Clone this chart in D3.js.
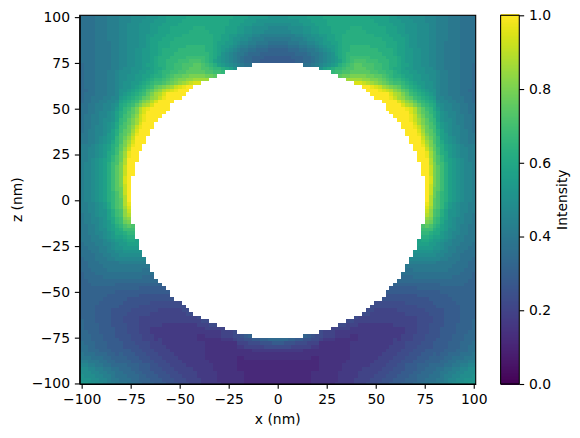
<!DOCTYPE html>
<html><head><meta charset="utf-8">
<script src="https://cdn.jsdelivr.net/npm/d3@7"></script>
<style>html,body{margin:0;padding:0;background:#fff}svg{display:block}text{font-family:"DejaVu Sans",sans-serif;fill:#000}</style>
</head><body><svg id="c" width="580" height="438"></svg>
<script>
const xTicks=[-100,-75,-50,-25,0,25,50,75,100];
const zTicks=[-100,-75,-50,-25,0,25,50,75,100];
const cTicks=[0,0.2,0.4,0.6,0.8,1];
const xLabel="x (nm)",zLabel="z (nm)",cLabel="Intensity";
const levelChars="0123456789ABCDEFGHIJKLMNOPQRSTUVWXYZ";
// Intensity levels (0-35 -> 0..1). One row per z from 100 to -100 (step 2),
// one character per x from -100 to 0 (step 2); the x>0 half mirrors it. Missing characters = no data.
const intensityRows=[
"DDDDEEEFFF GGGHHHHIII JJKKKKKLLL LLLLLLLLLK KKKJJJJJII I",
"DDDDEEEFFF GGGHHHIIIJ JJKKKKLLLL LLLLLLLLKK KKJJJIIIII I",
"DDDDEEEFFF GGHHHIIIJJ JKKKKLLLLL LLLLLLLLKK KJJJIIIHHH H",
"DDDDEEEFFF GGHHHIIIJJ KKKLLLLLLM MMLLLLLKKK JJIIHHHHGG G",
"DDDDEEEFFF GGHHHIIIJJ KKKLLLLLMM MMMLLLLKKK JJIIHHHGGG G",
"DDDDEEEFFF GGHHHIIJJK KKLLLLMMMM MMMMLLKKJJ IIHHGGFFFF F",
"DDDDEEEFFF GGHHHIIJKK KLLLMMMMMM MMMMLLKKJI IHHGFFFEEE E",
"DDDDEEEEFF GGHHHIIJKK LLLMMMMMMM MMMMLKKJJI HGGFFEEEDD D",
"DDDDEEEEFF GGHHHIIJKK LLLMMMMNNN NNMMLKJJIH GFFEEDDDCC C",
"DDDDEEEEFF GGHHIIJJKK LMMMMNNNNN NNMMLKJIHG FEEDDCCCBB B",
"DDDDEEEEFF GGHHIIJJKK LMMMNNNNNN NNNMLKIHGF EEDCCCBBBB B",
"DDDDEEEEFF GGHHIIJJKL MMMNNNNOOO OONMLJIHGF EDCCBBBAAA A",
"DDDDEEEEFF GGHHIIJJKL MMNNNOOOPP PONMKJIHGF EDCCBBAAAA A",
"CDDDEEEEFF GGHHIIJKKL MMNNOOPPPQ QPONMKJIHG FEDD",
"CDDDEEEEFF GHHIIIJJKL LMNNOOPPQQ QPPONNMLKI",
"CDDDEEEFFG HHHIIJJKKL MNNOOPPQQQ QQPPOON",
"CDDDEEEFFG HHIIJJKKLM MNOPQQRRSS SSRRQ",
"CDDDEEEFFG HHIIJJKLMN NOPQRSSTTU UUU",
"CDDDEEEFFG HIIJJKLMNO OPQRSTUVWX X",
"CDDDEEEFFG HIIJKLMNOQ RSTUWXYZZ",
"CCDDEEEFFG IIJKLMNPQS TVWXYZZZ",
"CDDDEEEFFG IJKLMNOQSU VXZZZZZ",
"CDDEEEFFGG JKLMNOQRTU WYZZZZ",
"CDDEEFFGGH KLMNOQSTVX ZZZZ",
"DDEEFFGGHI LMNOQSUVXZ ZZZ",
"DDEEFFGGHJ LNOQSVXYZZ ZZZ",
"DDEEFGGHIK MNPQSVXZZZ ZZ",
"DEEFFGGHIK MOPRTWYZZZ Z",
"DEEFFGHHIK NOQSUWYZZZ",
"DEEFFGHIJL NPQSUXZZZ",
"DEEFGGHIJL OPRTWYZZZ",
"DEFFGGHIKM OQRUXZZZ",
"EEFFGGHJKM PQSVYZZZ",
"EEFFGHIJKN PRTWZZZ",
"EEFFGHIJLN PSUXZZZ",
"FFFGHIJKMN QSVYZZ",
"FFGGHIJKMO QTWZZZ",
"FFGGHIJLMO RUYZZ",
"FFGGHIJLNP RUYZZ",
"FFGHIJKLNP RVZZZ",
"FGGHIJKMOP SVZZ",
"FGGHIJKMOQ SWZZ",
"FGGHIJKMOQ SWZZ",
"FGGHIJKMOQ SWZZ",
"FGGHIJKMOQ SXZ",
"FGGHIJKMOQ SXZ",
"FGGHIJKMOQ SWZ",
"FGGHIJKMOQ RWZ",
"FGGHIJKMNP RWZ",
"FGGHIJKMNP RVZ",
"FGGHIJKMNP QVZ",
"FFGGHIJLNP QVY",
"FFGGHIJLNP QUX",
"FFGGHIIKMO PTW",
"EFFGHIIKMO PTV",
"EFFGGHIKLN OST",
"EFFGGHIJLN ORS",
"EEFFGHIJKM NPQP",
"EEFFGHHJKL MOOO",
"EEFFGGHIJL LMNN",
"EEEFFGHIJK KLMM",
"EEEFFFGHIJ JKLLK",
"DEEEFFGGHI JJKKK",
"DDEEEFFGHI IJJJJ",
"DDDEEFFGGH HIIIII",
"DDDDEEFFGG HHHHHH",
"CDDDEEEFFG GGGGGGG",
"CCDDDEEEEE FFFFFFF",
"CCDDDDEEEE EEEEEEEE",
"CCCDDDDEEE EEEEEEDD",
"BCCCDDDDDD DDDDDDDDD",
"BCCCCCDDDD DDDDDDCCC",
"BBCCCCCCCC CCCCCCCCCC",
"BBBCCCCCCB BBBBBBBBBB B",
"BBBBBBBBBB BBBBBAAAAA AA",
"BBBBBBBBBA AAAAAAAAAA AAA",
"BBBBBBBAAA AAAAA99999 999",
"BBBBBBAAAA AA99999999 9999",
"BBBBBAAAAA A999999988 888888",
"BBBBAAAAAA 9999988888 8888888",
"BBBBAAAA99 9998888888 77777788",
"BBBBAAAA99 9988888877 777777788",
"BBBBAAAA99 9888877777 7777777777 8",
"CBBBAAAA99 9888877777 7777777777 788",
"CBBBBAAA99 9988877777 7666666666 77788",
"CBBBBAAAA9 9988877766 6666666666 6677777",
"CCBBBAAAA9 9988877766 6666666666 6666667778",
"CCCBBBAAA9 9998887776 6666666666 5566667778 89AB",
"CCCBBBAAAA 9998887776 7666666666 5555556667 8899AABBCC C",
"DCCCBBBAAA A999888877 7666666666 6655555555 777888999A A",
"DDCCBBBAAA A999988877 7766666666 6655555555 6677777888 8",
"DDCCCBBBAA AAA9998887 7776666666 6655555555 5555666666 6",
"EDDDCCCBBA BAAA999888 7777666666 6655555555 5555555555 5",
"EEEDDDCCBB BBAAA99988 8777766666 6655555555 4455555555 5",
"FFEEEDDCCB BBBAAA9998 8877776666 6665555555 4444444444 4",
"GGFFEEDDCC CCBBBAAA99 8887777666 6666555555 4444444444 4",
"HHGGFFEEDD CCCBBAAA99 9888777776 6666555555 4444444444 4",
"HHHGGFFEED DCCCBBAAA9 9988877777 6666655555 5544444444 4",
"IHHHGGFFED DDCCCBBAAA 9998887777 6666655555 5544444444 4",
"IIIHHGGFEE DDDCCBBBAA A999888777 7666655555 5544444444 4",
"JJIIHHGFFE EEDDCCBBBA AA99988877 7666665555 5544444444 4"
];

const cells=[];
intensityRows.forEach((r,i)=>{
  const s=r.replace(/ /g,"").padEnd(51,".");
  const full=s+s.slice(0,50).split("").reverse().join("");
  full.split("").forEach((ch,j)=>{
    const l=levelChars.indexOf(ch);
    if(l>=0) cells.push({x:-100+2*j,z:100-2*i,v:l/35});
  });
});

const svg=d3.select("#c");
const L=79.7,R=475.7,T=15.3,B=384;
const x=d3.scaleLinear().domain([-101,101]).range([L,R]);
const y=d3.scaleLinear().domain([-100.3,101]).range([B,T]);
const color=d3.scaleSequential(d3.interpolateViridis).domain([0,1]);
const fs=13.9, sw=1.1, tl=4.86;

svg.append("clipPath").attr("id","plot").append("rect").attr("x",L).attr("y",T).attr("width",R-L).attr("height",B-T);
svg.append("g").attr("clip-path","url(#plot)").attr("shape-rendering","crispEdges")
 .selectAll("rect").data(cells).join("rect")
 .attr("x",d=>x(d.x-1)).attr("width",d=>x(d.x+1)-x(d.x-1))
 .attr("y",d=>y(d.z+1)).attr("height",d=>y(d.z-1)-y(d.z+1))
 .attr("fill",d=>color(d.v));

const fmt=d=>String(d).replace("-","\u2212");
function style(g){
  g.selectAll("text").attr("font-size",fs).attr("fill","#000");
  g.selectAll(".tick line").attr("stroke","#000").attr("stroke-width",sw);
  g.select(".domain").attr("stroke","#000").attr("stroke-width",sw).attr("fill","none");
}
svg.append("g").attr("transform",`translate(0,${B})`)
 .call(d3.axisBottom(x).tickValues(xTicks).tickFormat(fmt).tickSize(tl).tickPadding(4.86).tickSizeOuter(0)).call(style);
svg.append("g").attr("transform",`translate(${L},0)`)
 .call(d3.axisLeft(y).tickValues(zTicks).tickFormat(fmt).tickSize(tl).tickPadding(4.86).tickSizeOuter(0)).call(style);
svg.append("rect").attr("x",L).attr("y",T).attr("width",R-L).attr("height",B-T).attr("fill","none").attr("stroke","#000").attr("stroke-width",sw);

// colorbar
const cL=500.6,cR=519.3;
const cy=d3.scaleLinear().domain([0,1]).range([B,T]);
const cvals=d3.range(0,256).map(i=>i/255);
svg.append("g").attr("shape-rendering","crispEdges").selectAll("rect").data(cvals).join("rect")
 .attr("x",cL).attr("width",cR-cL)
 .attr("y",d=>cy(d+1/255)).attr("height",(B-T)/255+0.5)
 .attr("fill",d=>color(d));
svg.append("rect").attr("x",cL).attr("y",T).attr("width",cR-cL).attr("height",B-T).attr("fill","none").attr("stroke","#000").attr("stroke-width",sw);
svg.append("g").attr("transform",`translate(${cR},0)`)
 .call(d3.axisRight(cy).tickValues(cTicks).tickFormat(d3.format(".1f")).tickSize(tl).tickPadding(4.86).tickSizeOuter(0)).call(style)
 .select(".domain").remove();

svg.append("text").attr("x",(L+R)/2).attr("y",424).attr("text-anchor","middle").attr("font-size",fs).text(xLabel);
svg.append("text").attr("transform",`translate(22,${(T+B)/2}) rotate(-90)`).attr("text-anchor","middle").attr("font-size",fs).text(zLabel);
svg.append("text").attr("transform",`translate(567,${(T+B)/2}) rotate(-90)`).attr("text-anchor","middle").attr("font-size",fs).text(cLabel);
</script></body></html>
